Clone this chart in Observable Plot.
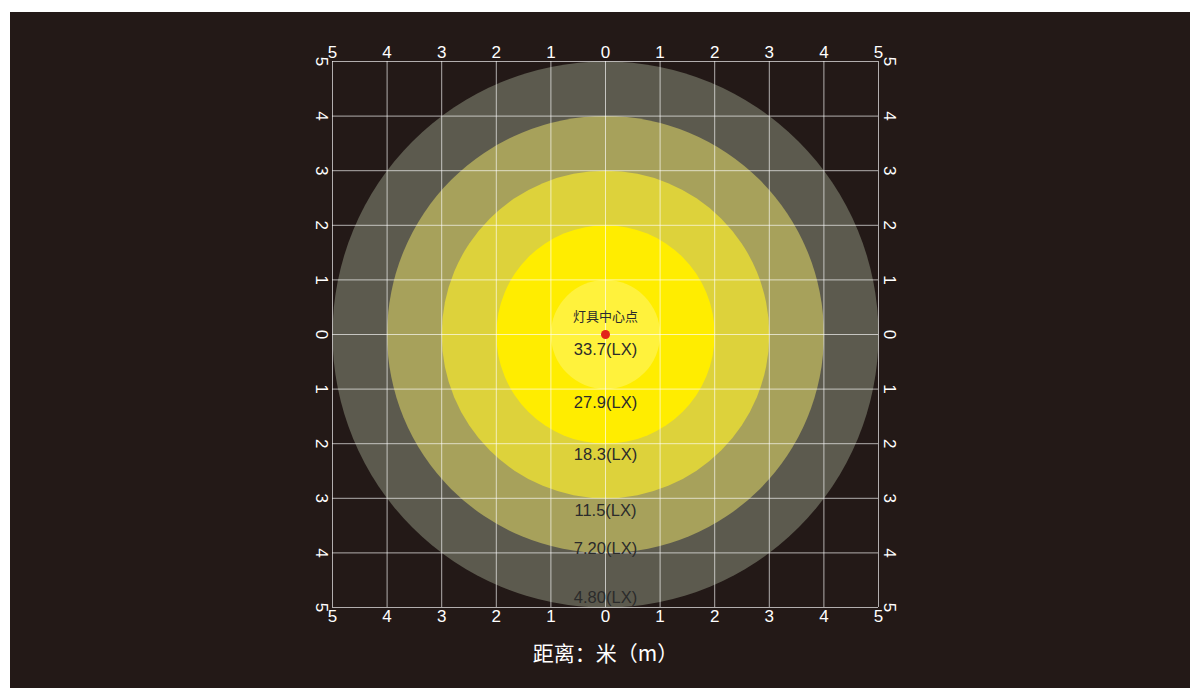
<!DOCTYPE html>
<html>
<head>
<meta charset="utf-8">
<script src="https://cdn.jsdelivr.net/npm/d3@7"></script>
<script src="https://cdn.jsdelivr.net/npm/@observablehq/plot@0.6"></script>
<style>
  html, body { margin: 0; padding: 0; background: #ffffff; }
  #wrap { position: absolute; left: 10px; top: 12px; width: 1180px; height: 676px; background: #231917; }
  svg { display: block; }
</style>
</head>
<body>
<div id="wrap"></div>
<script>
// ring radii (m), from outermost to innermost, and their fills
const ringRadius = [5, 4, 3, 2, 1];
const ringColor = ["#5c5a4e", "#a7a15b", "#ddd23b", "#ffed00", "#fff23c"];
// illuminance labels and their distance below the centre (m)
const luxValues = ["33.7", "27.9", "18.3", "11.5", "7.20", "4.80"];
const luxOffset = [0.27, 1.25, 2.2, 3.22, 3.92, 4.82];
// tick values (labelled by absolute value)
const ticks = [-5, -4, -3, -2, -1, 0, 1, 2, 3, 4, 5];
const centerLabel = "灯具中心点";
const axisTitle = "距离：米（m）";

const rings = ringRadius.map((r, i) => ({r, color: ringColor[i]}));
const labels = luxValues.map((v, i) => ({text: `${v}(LX)`, y: luxOffset[i]}));

const W = 1180, H = 676;
const mL = 322, mR = 312, mT = 49, mB = 81;
const unitPx = (W - mL - mR) / 10;

const tickFont = "Liberation Sans, Arial, sans-serif";

const chart = Plot.plot({
  width: W,
  height: H,
  marginLeft: mL,
  marginRight: mR,
  marginTop: mT,
  marginBottom: mB,
  style: {background: "transparent", color: "#ffffff", fontFamily: tickFont},
  x: {domain: [-5, 5], axis: null},
  y: {domain: [-5, 5], reverse: true, axis: null},
  r: {type: "linear", domain: [0, 5], range: [0, 5 * unitPx]},
  color: {type: "identity"},
  marks: [
    Plot.dot(rings, {x: () => 0, y: () => 0, r: "r", fill: "color", stroke: null}),
    Plot.gridX(ticks, {stroke: "#ffffff", strokeOpacity: 0.65, strokeWidth: 1}),
    Plot.gridY(ticks, {stroke: "#ffffff", strokeOpacity: 0.65, strokeWidth: 1}),
    Plot.dot([0], {x: () => 0, y: () => 0, r: 4.5, fill: "#e2231a", stroke: null}),
    Plot.text([centerLabel], {x: () => 0, y: () => -0.33, text: d => d, fill: "#2b2b2b", fontSize: 13, fontFamily: "Noto Sans CJK SC, sans-serif"}),
    Plot.text(labels, {x: () => 0, y: "y", text: "text", fill: "#2b2b2b", fontSize: 16.5, fontFamily: tickFont}),
    Plot.axisX(ticks, {anchor: "top", tickSize: 0, tickPadding: 4, tickFormat: d => Math.abs(d), fontSize: 17, fill: "#ffffff", label: null}),
    Plot.axisX(ticks, {anchor: "bottom", tickSize: 0, tickPadding: 2, tickFormat: d => Math.abs(d), fontSize: 17, fill: "#ffffff", label: null}),
    Plot.axisY(ticks, {anchor: "left", tickSize: 0, tickPadding: 11, rotate: 90, textAnchor: "middle", tickFormat: d => Math.abs(d), fontSize: 17, fill: "#ffffff", label: null}),
    Plot.axisY(ticks, {anchor: "right", tickSize: 0, tickPadding: 11, rotate: 90, textAnchor: "middle", tickFormat: d => Math.abs(d), fontSize: 17, fill: "#ffffff", label: null}),
    Plot.text([axisTitle], {frameAnchor: "bottom", dy: 53, text: d => d, fill: "#ffffff", fontSize: 21, fontFamily: "Noto Sans CJK SC, sans-serif"})
  ]
});

document.getElementById("wrap").appendChild(chart);
</script>
</body>
</html>
